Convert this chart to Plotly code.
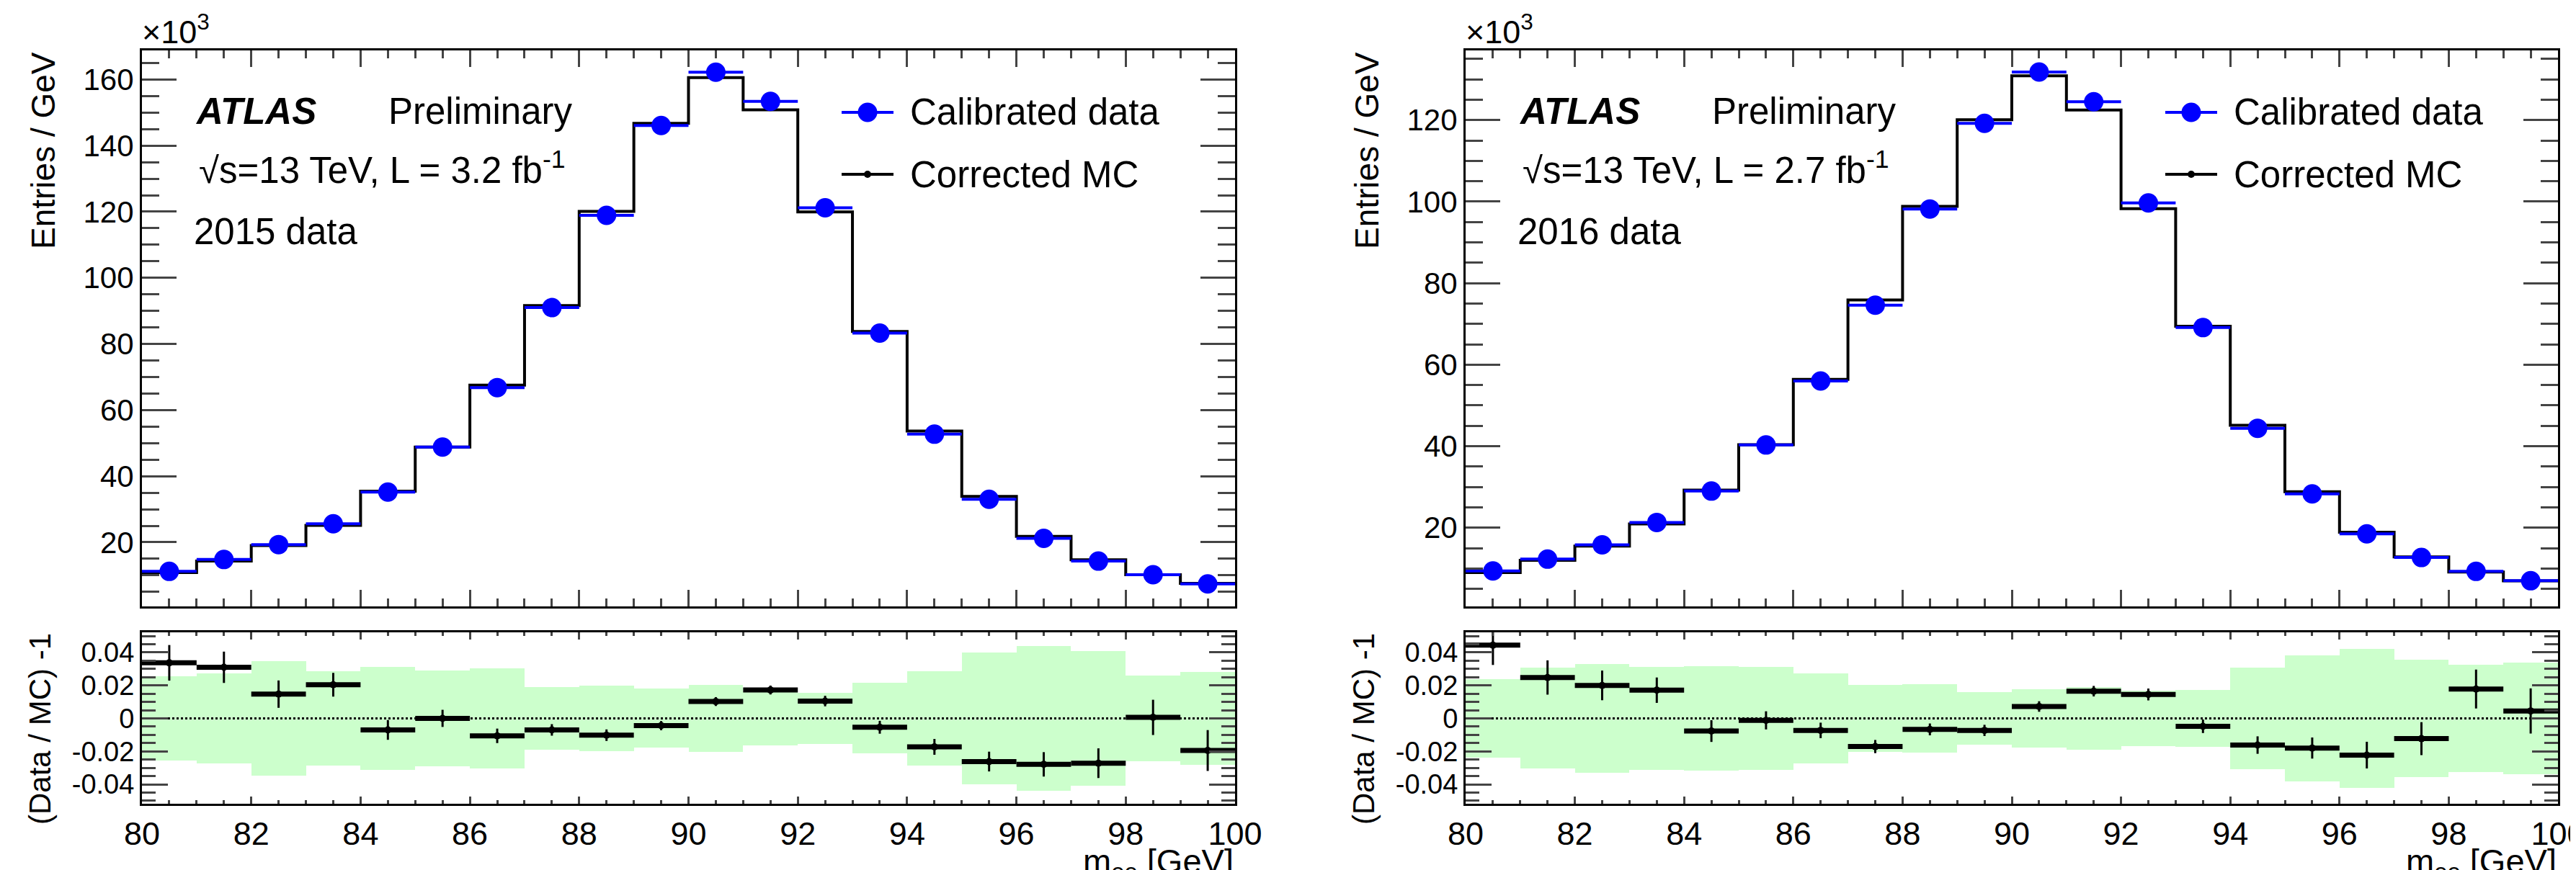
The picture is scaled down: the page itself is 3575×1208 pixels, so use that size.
import plotly.graph_objects as go

# ---------------- data ----------------
bin_edges = [80, 81, 82, 83, 84, 85, 86, 87, 88, 89, 90, 91, 92, 93, 94, 95, 96, 97, 98, 99, 100]

# Entries / GeV in units of 10^3
data_2015 = [11.2, 14.8, 19.3, 25.6, 35.2, 48.8, 66.8, 91.0, 118.9, 146.1,
             162.2, 153.4, 121.2, 83.3, 52.7, 33.0, 21.2, 14.3, 10.2, 7.4]
mc_2015 = [10.83, 14.35, 19.02, 25.09, 35.45, 48.8, 67.52, 91.64, 120.13, 146.75,
           160.56, 150.81, 119.94, 83.75, 53.63, 33.89, 21.81, 14.70, 10.19, 7.55]
ratio_2015 = [0.0337, 0.031, 0.0147, 0.0204, -0.007, 0.0, -0.0106, -0.007, -0.0102, -0.0044,
              0.0102, 0.0172, 0.0105, -0.0054, -0.0173, -0.0262, -0.0279, -0.0272, 0.0006, -0.0195]
ratio_err_2015 = [0.0108, 0.0095, 0.0083, 0.0072, 0.006, 0.0052, 0.0044, 0.0035, 0.0035, 0.0028,
                  0.0027, 0.0027, 0.0032, 0.0039, 0.0048, 0.006, 0.0074, 0.009, 0.0107, 0.0124]
band_2015 = [0.0257, 0.0275, 0.0349, 0.0288, 0.0313, 0.029, 0.0305, 0.0192, 0.02, 0.0179,
             0.0204, 0.0163, 0.0156, 0.0214, 0.0288, 0.0401, 0.0441, 0.0409, 0.0262, 0.0282]

data_2016 = [9.4, 12.3, 15.8, 21.3, 29.0, 40.3, 56.0, 74.6, 98.2, 119.2,
             131.8, 124.5, 99.7, 69.1, 44.4, 28.3, 18.5, 12.7, 9.3, 7.0]
mc_2016 = [9.00, 12.00, 15.49, 20.94, 29.23, 40.35, 56.41, 75.90, 98.86, 120.08,
           130.86, 122.48, 98.28, 69.43, 45.13, 28.82, 18.92, 12.86, 9.14, 6.97]
ratio_2016 = [0.0444, 0.0248, 0.02, 0.0171, -0.0077, -0.0012, -0.0073, -0.0171, -0.0067, -0.0073,
              0.0072, 0.0165, 0.0145, -0.0048, -0.0162, -0.018, -0.0223, -0.0123, 0.0178, 0.0045]
ratio_err_2016 = [0.012, 0.0104, 0.009, 0.0077, 0.0066, 0.0055, 0.0047, 0.004, 0.0036, 0.0034,
                  0.0032, 0.0032, 0.0036, 0.0041, 0.0053, 0.0064, 0.0081, 0.01, 0.0118, 0.0137]
band_2016 = [0.024, 0.0306, 0.033, 0.0313, 0.0317, 0.0311, 0.0273, 0.0205, 0.0208, 0.0158,
             0.0176, 0.0192, 0.0167, 0.0172, 0.0309, 0.0381, 0.0421, 0.0357, 0.0327, 0.034]

ratio_tickvals = [-0.04, -0.02, 0, 0.02, 0.04]
ratio_ticktext = ["-0.04", "-0.02", "0", "0.02", "0.04"]

panel_text = [
    ("√s=13 TeV, L = 3.2 fb<sup>-1</sup>", "2015 data"),
    ("√s=13 TeV, L = 2.7 fb<sup>-1</sup>", "2016 data"),
]

# ---------------- layout helpers ----------------
W, H = 3575, 1208
FONT = "Liberation Sans, Arial, Helvetica, sans-serif"
BLUE = "#0000ff"
GREEN = "#ccffcc"


def px(x):
    return x / W


def py(y):
    return 1 - y / H


centers = [(a + b) / 2 for a, b in zip(bin_edges[:-1], bin_edges[1:])]

fig = go.Figure()

panels = [
    dict(left=189, right=1706, data=data_2015, mc=mc_2015, r=ratio_2015, re=ratio_err_2015,
         band=band_2015, ymax=168.8, ymin=0.6, txt=panel_text[0]),
    dict(left=2026, right=3542, data=data_2016, mc=mc_2016, r=ratio_2016, re=ratio_err_2016,
         band=band_2016, ymax=137.1, ymin=0.7, txt=panel_text[1]),
]

MAIN_TOP, MAIN_BOT = 62, 834
RAT_TOP, RAT_BOT = 870, 1108

annotations = []
shapes = []

for i, p in enumerate(panels):
    xm = "x" if i == 0 else "x3"
    ym = "y" if i == 0 else "y3"
    xr = "x2" if i == 0 else "x4"
    yr = "y2" if i == 0 else "y4"

    # MC step histogram
    fig.add_trace(go.Scatter(
        x=bin_edges, y=p["mc"] + [p["mc"][-1]], mode="lines", line_shape="hv",
        line=dict(color="black", width=4), xaxis=xm, yaxis=ym, showlegend=False))
    # calibrated data
    fig.add_trace(go.Scatter(
        x=centers, y=p["data"], mode="markers",
        marker=dict(color=BLUE, size=27, symbol="circle"),
        error_x=dict(type="constant", value=0.5, thickness=4, width=0, color=BLUE),
        xaxis=xm, yaxis=ym, showlegend=False))

    # ratio band
    fig.add_trace(go.Bar(
        x=centers, y=[2 * b for b in p["band"]], base=[-b for b in p["band"]], width=1,
        marker=dict(color=GREEN, line=dict(width=0)), xaxis=xr, yaxis=yr, showlegend=False))
    # zero line
    fig.add_trace(go.Scatter(
        x=[bin_edges[0], bin_edges[-1]], y=[0, 0], mode="lines",
        line=dict(color="black", width=3, dash="dot"), xaxis=xr, yaxis=yr, showlegend=False))
    # ratio points
    fig.add_trace(go.Scatter(
        x=centers, y=p["r"], mode="markers",
        marker=dict(color="black", size=10),
        error_x=dict(type="constant", value=0.5, thickness=7, width=0, color="black"),
        error_y=dict(type="data", array=p["re"], thickness=3, width=0, color="black"),
        xaxis=xr, yaxis=yr, showlegend=False))

    L, R = p["left"], p["right"]
    off = L - 189

    common_x = dict(range=[80, 100], showline=True, linewidth=3, linecolor="black",
                    mirror="allticks", ticks="inside", dtick=2, tick0=80, tickwidth=3,
                    showgrid=False, zeroline=False, domain=[px(L), px(R)], automargin=False)
    fig.update_layout(**{
        ("xaxis" if i == 0 else "xaxis3"): dict(
            common_x, anchor=ym, ticklen=23, showticklabels=False,
            minor=dict(dtick=0.5, ticklen=11, ticks="inside", tickwidth=3, showgrid=False)),
        ("xaxis2" if i == 0 else "xaxis4"): dict(
            common_x, anchor=yr, ticklen=10, showticklabels=True, ticklabeloverflow="allow",
            tickfont=dict(family=FONT, size=45, color="black"),
            minor=dict(dtick=0.5, ticklen=5, ticks="inside", tickwidth=3, showgrid=False)),
        ("yaxis" if i == 0 else "yaxis3"): dict(
            range=[p["ymin"], p["ymax"]], anchor=xm, domain=[py(MAIN_BOT), py(MAIN_TOP)],
            showline=True, linewidth=3, linecolor="black", mirror="allticks",
            ticks="inside", dtick=20, tick0=0, ticklen=48, tickwidth=3,
            tickfont=dict(family=FONT, size=42, color="black"), automargin=False,
            minor=dict(dtick=5, ticklen=24, ticks="inside", tickwidth=3, showgrid=False),
            showgrid=False, zeroline=False),
        ("yaxis2" if i == 0 else "yaxis4"): dict(
            range=[-0.0518, 0.0522], anchor=xr, domain=[py(RAT_BOT), py(RAT_TOP)],
            showline=True, linewidth=3, linecolor="black", mirror="allticks",
            ticks="inside", tickvals=ratio_tickvals, ticktext=ratio_ticktext,
            ticklen=36, tickwidth=3, automargin=False,
            tickfont=dict(family=FONT, size=38, color="black"),
            minor=dict(dtick=0.005, tick0=0, ticklen=19, ticks="inside", tickwidth=3, showgrid=False),
            showgrid=False, zeroline=False),
    })

    # texts
    def ann(text, x, y, size, xanchor="left", yanchor="middle", angle=0):
        annotations.append(dict(text=text, x=px(x), y=py(y), xref="paper", yref="paper",
                                xanchor=xanchor, yanchor=yanchor, showarrow=False,
                                textangle=angle,
                                font=dict(family=FONT, size=size, color="black")))

    ann("×10<sup>3</sup>", 187 + off, 33, 45)
    ann("<b><i>ATLAS</i></b>", 261 + off, 146, 51)
    ann("Preliminary", 529 + off, 146, 51)
    ann(p["txt"][0], 266 + off, 225, 51)
    ann(p["txt"][1], 259 + off, 314, 51)
    ann("Entries / GeV", 52 + off, 62, 46, xanchor="center", yanchor="top", angle=-90)
    ann("(Data / MC) -1", 47 + off, 1004, 42, xanchor="center", yanchor="middle", angle=-90)
    ann("m<sub>ee</sub> [GeV]", R, 1159, 47, xanchor="right", yanchor="top")

    # legend
    ann("Calibrated data", 1253 + off, 148, 51)
    ann("Corrected MC", 1253 + off, 234, 51)
    shapes.append(dict(type="line", xref="paper", yref="paper",
                       x0=px(1160 + off), x1=px(1232 + off), y0=py(148), y1=py(148),
                       line=dict(color=BLUE, width=4)))
    shapes.append(dict(type="circle", xref="paper", yref="paper",
                       x0=px(1196 + off - 13.5), x1=px(1196 + off + 13.5),
                       y0=py(148 + 13.5), y1=py(148 - 13.5),
                       fillcolor=BLUE, line=dict(color=BLUE, width=0)))
    shapes.append(dict(type="line", xref="paper", yref="paper",
                       x0=px(1160 + off), x1=px(1232 + off), y0=py(234), y1=py(234),
                       line=dict(color="black", width=4)))
    shapes.append(dict(type="circle", xref="paper", yref="paper",
                       x0=px(1196 + off - 5), x1=px(1196 + off + 5),
                       y0=py(234 + 5), y1=py(234 - 5),
                       fillcolor="black", line=dict(color="black", width=0)))

fig.update_layout(
    width=W, height=H, margin=dict(l=0, r=0, t=0, b=0, autoexpand=False),
    paper_bgcolor="white", plot_bgcolor="white",
    annotations=annotations, shapes=shapes, showlegend=False,
    font=dict(family=FONT, color="black"), bargap=0,
)

fig.write_html("out.html")
